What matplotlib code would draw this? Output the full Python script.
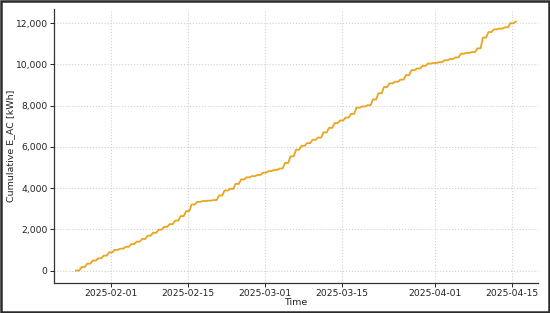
import numpy as np
import pandas as pd
import matplotlib
matplotlib.use("Agg")
import matplotlib.pyplot as plt
import matplotlib.dates as mdates
from matplotlib.ticker import FuncFormatter
from matplotlib.patches import Rectangle

# Daily end-of-day cumulative energy (kWh)
start_date = "2025-01-25"
cum_kwh = [
    0,                                                    # Jan 25
    170, 330, 480, 590, 720, 880,                         # Jan 26-31
    1000, 1060, 1150, 1280, 1400, 1530, 1690, 1830, 1980, 2120,
    2250, 2420, 2640, 2880, 3200, 3330, 3370, 3390, 3420, 3640,
    3880, 3960, 4200, 4420, 4520, 4580, 4640, 4750,         # Feb 1-28
    4820, 4880, 4950, 5220, 5540, 5860, 6050, 6180, 6340, 6450,
    6700, 6920, 7150, 7280, 7420, 7600, 7900, 7960, 8020, 8300,
    8600, 8900, 9080, 9160, 9260, 9480, 9720, 9800, 9930, 10040,
    10070,                                                # Mar 1-31
    10110, 10200, 10260, 10340, 10520, 10560, 10600, 10780, 11300, 11570,
    11700, 11740, 11800, 12000, 12080,                    # Apr 1-15
]
days = pd.date_range(start_date, periods=len(cum_kwh), freq="D")
y_ticks = [0, 2000, 4000, 6000, 8000, 10000, 12000]
x_ticks = ["2025-02-01", "2025-02-15", "2025-03-01", "2025-03-15", "2025-04-01", "2025-04-15"]

# Production happens during daylight: flat overnight, rising during the day
t, v = [days[0] + pd.Timedelta(hours=16)], [cum_kwh[0]]
for i in range(1, len(cum_kwh)):
    t.append(days[i] + pd.Timedelta(hours=7)); v.append(cum_kwh[i - 1])
    t.append(days[i] + pd.Timedelta(hours=17)); v.append(cum_kwh[i])

fig = plt.figure(figsize=(5.5, 3.13), dpi=100)
ax = fig.add_axes([0.098, 0.096, 0.880, 0.875])
ax.plot(t, v, color="#E8A520", linewidth=1.3)

ax.set_yticks(y_ticks)
ax.yaxis.set_major_formatter(FuncFormatter(lambda val, p: f"{val:,.0f}"))
ax.set_xticks(pd.to_datetime(x_ticks))
ax.xaxis.set_major_formatter(mdates.DateFormatter("%Y-%m-%d"))

ax.grid(True, linestyle=":", color="#d0d0d0", linewidth=0.8)
ax.set_axisbelow(True)
for s in ["top", "right"]:
    ax.spines[s].set_visible(False)
for s in ["left", "bottom"]:
    ax.spines[s].set_color("#333333")
    ax.spines[s].set_linewidth(0.9)
ax.tick_params(labelsize=6.6, colors="#222222", length=3, width=0.7, pad=1.5)
ax.set_ylabel("Cumulative E_AC [kWh]", fontsize=6.8, color="#222222", labelpad=0.5)
ax.set_xlabel("Time", fontsize=6.8, color="#222222", labelpad=0)

fig.patches.append(Rectangle((0.002, 0.003), 0.996, 0.994, transform=fig.transFigure,
                             fill=False, edgecolor="#2a2a2a", linewidth=1.8))
fig.savefig("out.png", dpi=100)
